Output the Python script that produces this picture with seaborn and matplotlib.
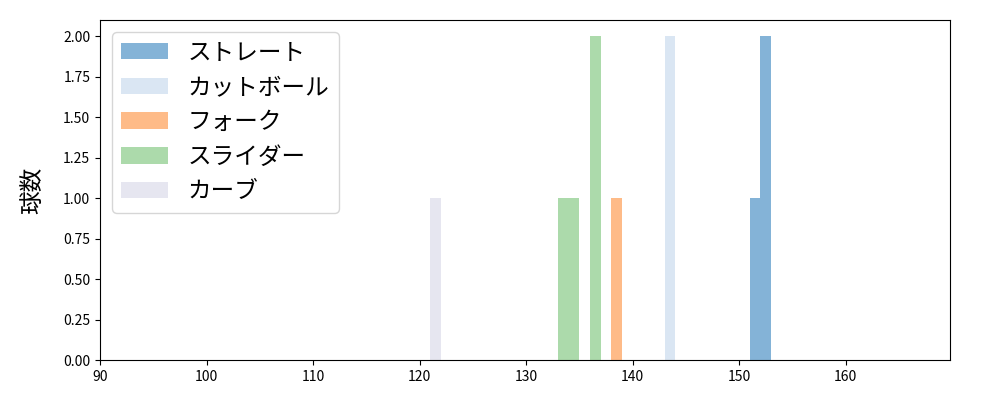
import pandas as pd
import matplotlib.pyplot as plt
import seaborn as sns

# pitch speeds (km/h) per pitch type
pitch_types = ["ストレート", "カットボール", "フォーク", "スライダー", "カーブ"]
straight = [151, 152, 152]
cutball = [143, 143]
fork = [138]
slider = [133, 134, 136, 136]
curve = [121]
colors = ["#84b3d7", "#dae6f3", "#febb88", "#acdaab", "#e6e6f0"]

plt.rcParams['font.family'] = ['Noto Sans CJK JP', 'DejaVu Sans']

rows = []
for name, speeds in zip(pitch_types, [straight, cutball, fork, slider, curve]):
    for s in speeds:
        rows.append({"球速": s, "球種": name})
df = pd.DataFrame(rows)

fig, ax = plt.subplots(figsize=(10, 4), dpi=100)
sns.histplot(data=df, x="球速", hue="球種", hue_order=pitch_types,
             palette=colors, binwidth=1, binrange=(90, 170),
             alpha=1, linewidth=0, ax=ax)

ax.set_xlim(90, 169.8)
ax.set_xlabel("")
ax.set_ylabel("球数", fontsize=17)
ax.yaxis.set_label_coords(-0.066, 0.5)
sns.move_legend(ax, "upper left", title=None, fontsize=17)

fig.subplots_adjust(left=0.1, right=0.95, top=0.95, bottom=0.1)
plt.savefig("out.png")
